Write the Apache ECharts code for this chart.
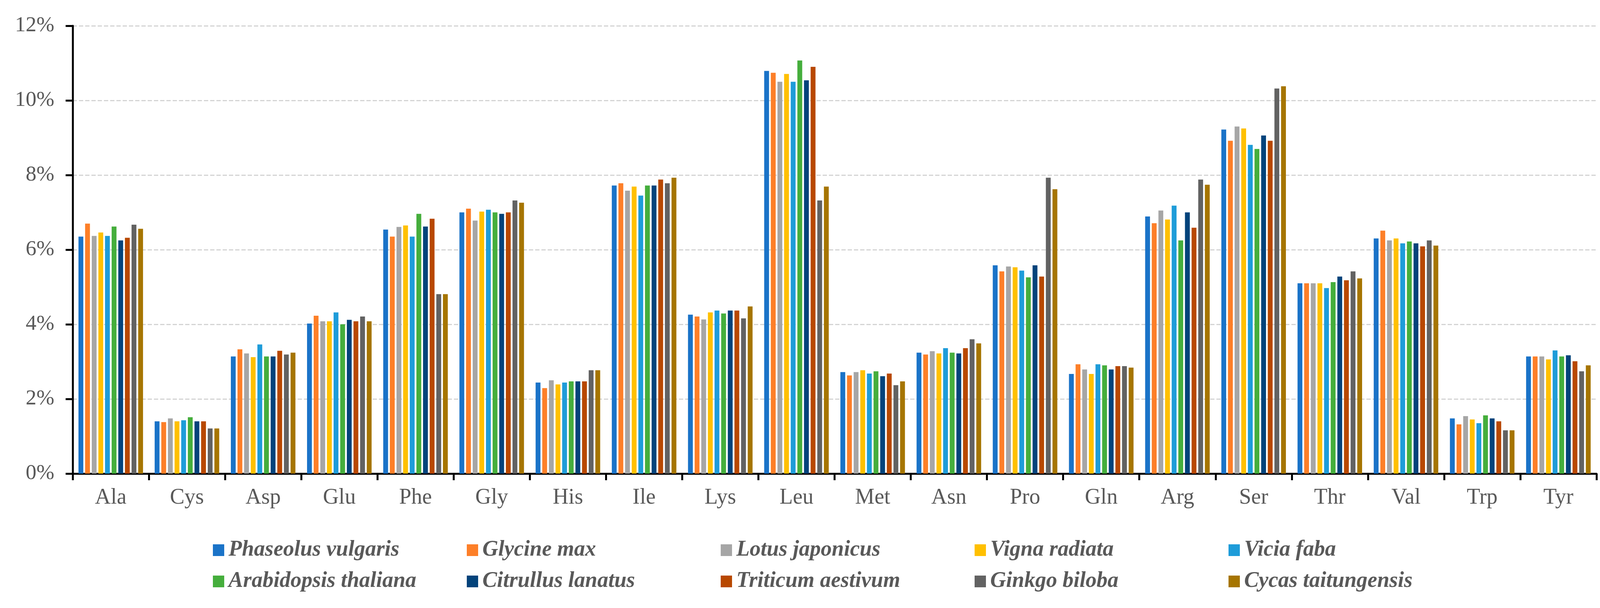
<!DOCTYPE html>
<html>
<head>
<meta charset="utf-8">
<script src="https://cdn.jsdelivr.net/npm/echarts@6/dist/echarts.min.js"></script>
<style>
html,body{margin:0;padding:0;background:#fff;}
#chart{width:4156px;height:1556px;}
</style>
</head>
<body>
<div id="chart"></div>
<script>
var categories = ['Ala','Cys','Asp','Glu','Phe','Gly','His','Ile','Lys','Leu','Met','Asn','Pro','Gln','Arg','Ser','Thr','Val','Trp','Tyr'];

var phaseolusVulgaris   = [6.35,1.40,3.14,4.02,6.54,7.00,2.44,7.72,4.26,10.79,2.72,3.24,5.58,2.67,6.89,9.22,5.10,6.30,1.48,3.14];
var glycineMax          = [6.70,1.38,3.33,4.23,6.35,7.10,2.29,7.78,4.21,10.74,2.63,3.19,5.42,2.93,6.71,8.92,5.10,6.51,1.32,3.14];
var lotusJaponicus      = [6.37,1.48,3.22,4.08,6.61,6.78,2.50,7.58,4.13,10.50,2.72,3.28,5.55,2.79,7.05,9.30,5.10,6.25,1.54,3.14];
var vignaRadiata        = [6.46,1.40,3.12,4.08,6.65,7.02,2.39,7.69,4.32,10.71,2.77,3.22,5.53,2.67,6.81,9.25,5.10,6.30,1.45,3.06];
var viciaFaba           = [6.37,1.43,3.46,4.32,6.35,7.07,2.44,7.45,4.37,10.50,2.68,3.36,5.44,2.93,7.18,8.81,4.97,6.17,1.35,3.30];
var arabidopsisThaliana = [6.62,1.51,3.14,4.00,6.96,7.00,2.47,7.72,4.29,11.07,2.74,3.24,5.26,2.90,6.25,8.70,5.13,6.22,1.56,3.14];
var citrullusLanatus    = [6.25,1.40,3.14,4.12,6.62,6.96,2.47,7.72,4.37,10.54,2.61,3.22,5.58,2.79,7.00,9.06,5.28,6.17,1.48,3.17];
var triticumAestivum    = [6.32,1.40,3.29,4.08,6.83,7.00,2.47,7.88,4.37,10.90,2.68,3.36,5.28,2.88,6.59,8.92,5.18,6.09,1.40,3.01];
var ginkgoBiloba        = [6.67,1.21,3.19,4.21,4.81,7.32,2.77,7.78,4.16,7.32,2.37,3.60,7.93,2.88,7.88,10.32,5.42,6.25,1.16,2.74];
var cycasTaitungensis   = [6.56,1.21,3.24,4.08,4.81,7.26,2.77,7.93,4.48,7.69,2.47,3.49,7.62,2.84,7.74,10.38,5.23,6.11,1.16,2.90];

var seriesNames = ['Phaseolus vulgaris','Glycine max','Lotus japonicus','Vigna radiata','Vicia faba',
                   'Arabidopsis thaliana','Citrullus lanatus','Triticum aestivum','Ginkgo biloba','Cycas taitungensis'];
var seriesData = [phaseolusVulgaris, glycineMax, lotusJaponicus, vignaRadiata, viciaFaba,
                  arabidopsisThaliana, citrullusLanatus, triticumAestivum, ginkgoBiloba, cycasTaitungensis];
var colors = ['#1a73c8','#fd7f28','#a6a6a6','#ffc000','#1e9cd9','#45ae3c','#03437b','#b84800','#626262','#a67500'];

var FONT = '"Liberation Serif","Times New Roman",serif';
var TEXT = '#595959';

var legends = seriesNames.map(function (name, i) {
  return {
    data: [name],
    left: 545 + 650 * (i % 5),
    top: 1380 + 80 * Math.floor(i / 5),
    orient: 'horizontal',
    padding: 0,
    itemWidth: 29,
    itemHeight: 30,
    icon: 'rect',
    selectedMode: false,
    textStyle: {
      fontFamily: FONT, fontSize: 56, fontStyle: 'italic', fontWeight: 'bold',
      color: TEXT, lineHeight: 30, padding: [0, 0, 0, 6]
    }
  };
});

var series = seriesNames.map(function (name, i) {
  return {
    name: name,
    type: 'bar',
    data: seriesData[i],
    barWidth: 12.4,
    barGap: '37%',
    itemStyle: { color: colors[i] },
    animation: false
  };
});

var chart = echarts.init(document.getElementById('chart'), null, { renderer: 'canvas' });
chart.setOption({
  backgroundColor: '#ffffff',
  animation: false,
  color: colors,
  legend: legends,
  grid: { left: 186, right: 69, top: 66, bottom: 344, containLabel: false },
  xAxis: {
    type: 'category',
    data: categories,
    boundaryGap: true,
    axisLine: { show: true, lineStyle: { color: '#000', width: 5 } },
    axisTick: { show: true, interval: 0, length: 17, lineStyle: { color: '#000', width: 5 } },
    axisLabel: { interval: 0, margin: 34, fontFamily: FONT, fontSize: 56, color: TEXT },
    splitLine: { show: false }
  },
  yAxis: {
    type: 'value',
    min: 0, max: 12, interval: 2,
    axisLine: { show: true, lineStyle: { color: '#000', width: 5 } },
    axisTick: { show: true, length: 18, lineStyle: { color: '#000', width: 5 } },
    axisLabel: { margin: 47, fontFamily: FONT, fontSize: 55, color: TEXT, formatter: '{value}%' },
    splitLine: { show: true, lineStyle: { color: '#d4d4d4', width: 3, type: [11, 5] } }
  },
  series: series
});
</script>
</body>
</html>
